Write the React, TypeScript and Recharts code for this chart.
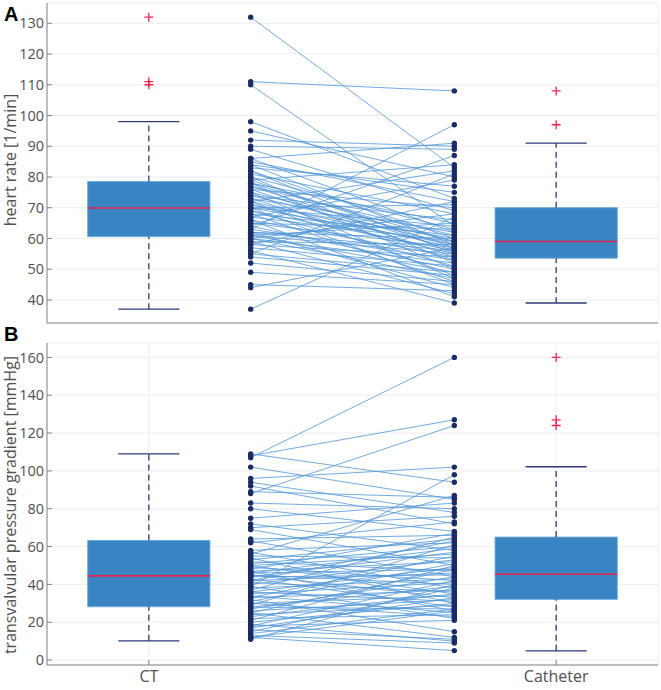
import React from 'react';
import {
  ComposedChart,
  XAxis,
  YAxis,
  CartesianGrid,
  ReferenceArea,
  ReferenceLine,
  Scatter,
} from 'recharts';

const groups = ['CT', 'Catheter'];
const groupX = [1, 5];
const pairX = [2, 4];

// panel A: heart rate
const hrTicks = [40, 50, 60, 70, 80, 90, 100, 110, 120, 130];
const hrCT = [
  132, 111, 110, 98, 95, 92, 90, 89, 86, 86,
  85, 84, 84, 83, 82, 82, 81, 80, 80, 79,
  79, 78, 78, 78, 77, 77, 76, 76, 75, 75,
  74, 74, 73, 73, 72, 72, 72, 71, 71, 70,
  70, 70, 70, 69, 69, 68, 68, 67, 67, 66,
  66, 65, 65, 64, 64, 63, 63, 62, 62, 62,
  61, 61, 61, 60, 60, 60, 59, 59, 58, 58,
  57, 56, 55, 55, 54, 52, 49, 45, 44, 37,
];
const hrCath = [
  83, 108, 64, 73, 80, 90, 89, 69, 91, 62,
  72, 58, 75, 77, 55, 60, 68, 52, 63, 57,
  84, 59, 65, 50, 61, 56, 70, 54, 59, 47,
  66, 58, 62, 53, 82, 57, 48, 60, 55, 64,
  45, 58, 71, 56, 51, 61, 46, 59, 79, 54,
  41, 57, 63, 50, 87, 97, 53, 56, 44, 60,
  49, 65, 55, 52, 68, 47, 58, 42, 72, 54,
  51, 39, 49, 81, 48, 46, 45, 43, 57, 67,
];
// [lower whisker, q1, median, q3, upper whisker]
const hrBoxCT = [37, 60.6, 69.9, 78.5, 98];
const hrBoxCath = [39, 53.6, 59, 70, 91];
const hrOutCT = [132, 111, 110];
const hrOutCath = [108, 97];

// panel B: transvalvular pressure gradient
const pgTicks = [0, 20, 40, 60, 80, 100, 120, 140, 160];
const pgCT = [
  107, 108, 88, 39, 109, 102, 96, 94, 92, 89,
  83, 80, 75, 72, 70, 69, 64, 63, 62, 58,
  57, 56, 55, 54, 53, 52, 51, 50, 50, 49,
  48, 47, 47, 46, 46, 45, 45, 44, 44, 43,
  42, 42, 41, 40, 39, 38, 37, 36, 36, 35,
  34, 33, 33, 32, 31, 30, 30, 29, 28, 28,
  27, 26, 25, 25, 24, 23, 22, 21, 20, 19,
  18, 18, 17, 16, 15, 14, 13, 12, 12, 11,
];
const pgCath = [
  160, 127, 124, 98, 94, 85, 102, 78, 72, 86,
  80, 68, 83, 58, 76, 50, 66, 44, 73, 62,
  38, 87, 54, 30, 64, 47, 60, 35, 56, 42,
  67, 52, 26, 48, 59, 40, 33, 57, 45, 28,
  63, 46, 36, 53, 22, 43, 65, 31, 49, 41,
  25, 55, 37, 15, 51, 34, 23, 61, 39, 27,
  44, 32, 12, 48, 29, 35, 24, 50, 30, 10,
  42, 21, 33, 11, 38, 27, 9, 26, 5, 40,
];
const pgBoxCT = [10.2, 28.2, 44.5, 63.2, 109];
const pgBoxCath = [4.9, 32.1, 45.4, 65, 102.2];
const pgOutCT: number[] = [];
const pgOutCath = [160, 127, 124];

const axisColor = '#858585';
const textColor = '#505050';
const boxFill = '#3a84c3';
const boxEdge = '#6aa8dc';
const medianColor = '#e8264f';
const whiskerColor = '#2b3a78';
const dotColor = '#1b2b63';
const pairColor = '#5196d6';

const Dot = (p: any) => <circle cx={p.cx} cy={p.cy} r={2.7} fill={dotColor} />;
const Plus = (p: any) => (
  <path
    d={`M${p.cx - 4.5},${p.cy}h9M${p.cx},${p.cy - 4.5}v9`}
    stroke={medianColor}
    strokeWidth={1.3}
  />
);

function boxElements(gx: number, box: number[], key: string) {
  const [lo, q1, med, q3, hi] = box;
  const w = 0.6;
  const c = 0.3;
  return [
    <ReferenceLine key={key + 'wu'} segment={[{ x: gx, y: q3 }, { x: gx, y: hi }]} stroke={whiskerColor} strokeWidth={1.3} strokeDasharray="6 4" />,
    <ReferenceLine key={key + 'wl'} segment={[{ x: gx, y: lo }, { x: gx, y: q1 }]} stroke={whiskerColor} strokeWidth={1.3} strokeDasharray="6 4" />,
    <ReferenceLine key={key + 'cu'} segment={[{ x: gx - c, y: hi }, { x: gx + c, y: hi }]} stroke={whiskerColor} strokeWidth={1.3} />,
    <ReferenceLine key={key + 'cl'} segment={[{ x: gx - c, y: lo }, { x: gx + c, y: lo }]} stroke={whiskerColor} strokeWidth={1.3} />,
    <ReferenceArea key={key + 'b'} x1={gx - w} x2={gx + w} y1={q1} y2={q3} fill={boxFill} fillOpacity={1} stroke={boxEdge} strokeWidth={1} />,
    <ReferenceLine key={key + 'm'} segment={[{ x: gx - w, y: med }, { x: gx + w, y: med }]} stroke={medianColor} strokeWidth={1.6} />,
  ];
}

interface PanelProps {
  top: number;
  height: number;
  marginTop: number;
  xAxisHeight: number;
  domain: [number, number];
  ticks: number[];
  ct: number[];
  cath: number[];
  boxCT: number[];
  boxCath: number[];
  outCT: number[];
  outCath: number[];
  showLabels: boolean;
}

function Panel(props: PanelProps) {
  const { top, height, marginTop, xAxisHeight, domain, ticks, ct, cath } = props;
  const leftDots = ct.map((v) => ({ x: pairX[0], y: v }));
  const rightDots = cath.map((v) => ({ x: pairX[1], y: v }));
  const outliers = [
    ...props.outCT.map((v) => ({ x: groupX[0], y: v })),
    ...props.outCath.map((v) => ({ x: groupX[1], y: v })),
  ];
  return (
    <div style={{ position: 'absolute', left: 0, top }}>
      <ComposedChart width={661} height={height} margin={{ top: marginTop, right: 3, left: 0, bottom: 0 }}>
        <CartesianGrid stroke="#eeeeee" />
        <XAxis
          type="number"
          dataKey="x"
          domain={[0, 6]}
          ticks={groupX}
          allowDataOverflow
          height={xAxisHeight}
          tickSize={-5}
          tickMargin={11}
          stroke={axisColor}
          tick={props.showLabels ? { fill: textColor, fontSize: 16 } : false}
          tickFormatter={(v) => groups[groupX.indexOf(v)]}
        />
        <XAxis
          xAxisId="top"
          orientation="top"
          type="number"
          domain={[0, 6]}
          ticks={groupX}
          allowDataOverflow
          height={0}
          tickSize={-5}
          stroke={axisColor}
          tick={false}
        />
        <YAxis
          type="number"
          dataKey="y"
          domain={domain}
          ticks={ticks}
          allowDataOverflow
          width={47}
          tickSize={-5}
          tickMargin={8}
          stroke={axisColor}
          tick={{ fill: textColor, fontSize: 14.5 }}
        />
        <YAxis
          yAxisId="right"
          orientation="right"
          type="number"
          domain={domain}
          ticks={ticks}
          allowDataOverflow
          width={0}
          tickSize={-5}
          stroke={axisColor}
          tick={false}
        />
        {boxElements(groupX[0], props.boxCT, 'ct')}
        {boxElements(groupX[1], props.boxCath, 'cath')}
        {ct.map((v, i) => (
          <ReferenceLine
            key={'p' + i}
            segment={[{ x: pairX[0], y: v }, { x: pairX[1], y: cath[i] }]}
            stroke={pairColor}
            strokeWidth={0.8}
          />
        ))}
        <Scatter data={leftDots} shape={Dot} isAnimationActive={false} />
        <Scatter data={rightDots} shape={Dot} isAnimationActive={false} />
        <Scatter data={outliers} shape={Plus} isAnimationActive={false} />
      </ComposedChart>
    </div>
  );
}

export default function App() {
  return (
    <div
      style={{
        position: 'absolute',
        left: 0,
        top: 0,
        width: 661,
        height: 690,
        background: '#fff',
        fontFamily: '"Open Sans", "Noto Sans", sans-serif',
      }}
    >
      <Panel
        top={0}
        height={330}
        marginTop={3}
        xAxisHeight={7}
        domain={[32.5, 136.6]}
        ticks={hrTicks}
        ct={hrCT}
        cath={hrCath}
        boxCT={hrBoxCT}
        boxCath={hrBoxCath}
        outCT={hrOutCT}
        outCath={hrOutCath}
        showLabels={false}
      />
      <Panel
        top={330}
        height={360}
        marginTop={13}
        xAxisHeight={25}
        domain={[-2.6, 167.6]}
        ticks={pgTicks}
        ct={pgCT}
        cath={pgCath}
        boxCT={pgBoxCT}
        boxCath={pgBoxCath}
        outCT={pgOutCT}
        outCath={pgOutCath}
        showLabels
      />
      <svg width={661} height={690} style={{ position: 'absolute', left: 0, top: 0, pointerEvents: 'none' }}>
        <text x={4} y={21} fontSize={20} fontWeight="bold" fill="#000" fontFamily="Liberation Sans, Arial, sans-serif">A</text>
        <text x={4} y={341} fontSize={20} fontWeight="bold" fill="#000" fontFamily="Liberation Sans, Arial, sans-serif">B</text>
        <text transform="translate(16,160) rotate(-90)" textAnchor="middle" fontSize={16} fill={textColor}>
          heart rate [1/min]
        </text>
        <text transform="translate(16,505) rotate(-90)" textAnchor="middle" fontSize={16} fill={textColor}>
          transvalvular pressure gradient [mmHg]
        </text>
      </svg>
    </div>
  );
}
